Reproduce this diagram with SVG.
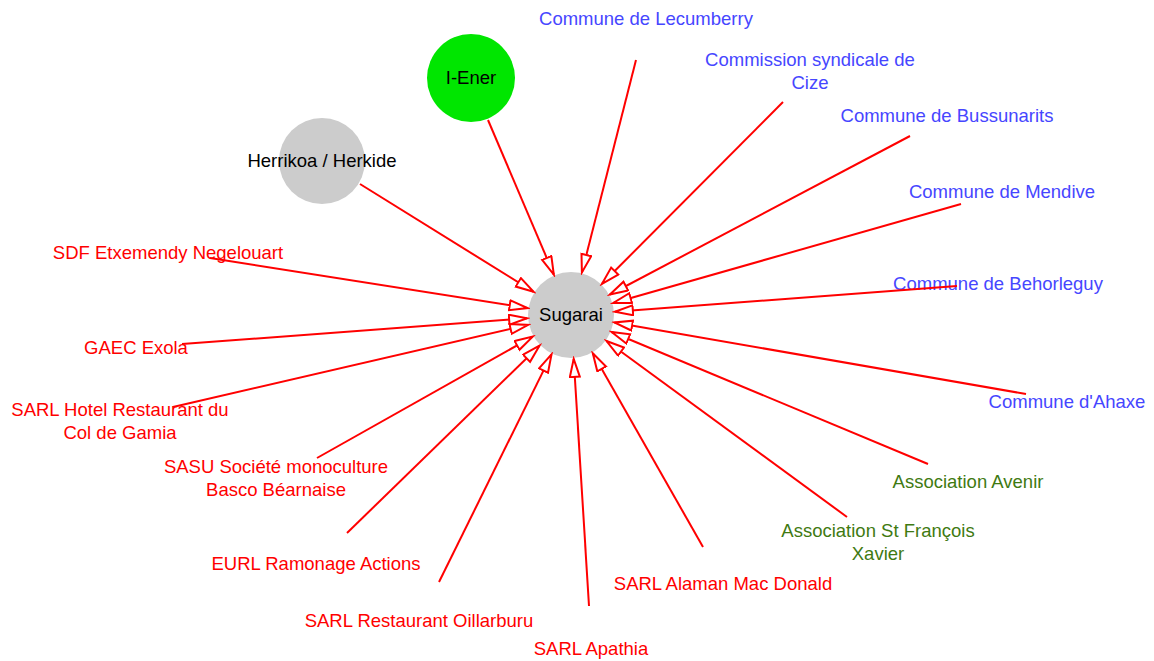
<svg xmlns="http://www.w3.org/2000/svg" width="1154" height="661" viewBox="0 0 1154 661">
<style>
text{font-family:"Liberation Sans",Arial,sans-serif;font-size:18.5px;text-anchor:middle}
.b{fill:#4646ff}.r{fill:#ff0000}.g{fill:#3f7a12}.k{fill:#000}
.e{stroke:#ff0000;stroke-width:2;fill:none;marker-end:url(#ah)}
</style>
<defs>
<marker id="ah" markerUnits="userSpaceOnUse" markerWidth="22" markerHeight="14" refX="19" refY="6" orient="auto">
<path d="M1,1 L19,6 L1,11 Z" fill="#fff" stroke="#ff0000" stroke-width="2"/>
</marker>
</defs>
<rect width="1154" height="661" fill="#fff"/>
<g id="n-herrikoa"><circle cx="322" cy="161" r="43" fill="#cccccc"/><text class="k" x="322" y="167">Herrikoa / Herkide</text></g>
<g id="n-iener"><circle cx="471" cy="78" r="44" fill="#00e600"/><text class="k" x="471" y="84">I-Ener</text></g>
<g id="n-lecumberry"><text class="b" x="646" y="25">Commune de Lecumberry</text></g>
<g id="n-commission"><text class="b" x="810" y="66">Commission syndicale de</text><text class="b" x="810" y="89">Cize</text></g>
<g id="n-bussunarits"><text class="b" x="947" y="122">Commune de Bussunarits</text></g>
<g id="n-mendive"><text class="b" x="1002" y="198">Commune de Mendive</text></g>
<g id="n-behorleguy"><text class="b" x="998" y="290">Commune de Behorleguy</text></g>
<g id="n-ahaxe"><text class="b" x="1067" y="408">Commune d'Ahaxe</text></g>
<g id="n-avenir"><text class="g" x="968" y="488">Association Avenir</text></g>
<g id="n-stfrancois"><text class="g" x="878" y="537">Association St François</text><text class="g" x="878" y="560">Xavier</text></g>
<g id="n-alaman"><text class="r" x="723" y="590">SARL Alaman Mac Donald</text></g>
<g id="n-apathia"><text class="r" x="591" y="655">SARL Apathia</text></g>
<g id="n-oillarburu"><text class="r" x="419" y="627">SARL Restaurant Oillarburu</text></g>
<g id="n-eurl"><text class="r" x="316" y="570">EURL Ramonage Actions</text></g>
<g id="n-sasu"><text class="r" x="276" y="473">SASU Société monoculture</text><text class="r" x="276" y="496">Basco Béarnaise</text></g>
<g id="n-hotel"><text class="r" x="120" y="416">SARL Hotel Restaurant du</text><text class="r" x="120" y="439">Col de Gamia</text></g>
<g id="n-gaec"><text class="r" x="136" y="354">GAEC Exola</text></g>
<g id="n-sdf"><text class="r" x="168" y="259">SDF Etxemendy Negelouart</text></g>
<g id="n-sugarai"><circle cx="571" cy="315" r="43" fill="#cccccc"/><text class="k" x="571" y="321">Sugarai</text></g>
<g id="connectors">
<line class="e" x1="636" y1="60" x2="581.9" y2="272.4"/>
<line class="e" x1="783" y1="102" x2="602.0" y2="283.8"/>
<line class="e" x1="910" y1="136" x2="609.9" y2="294.5"/>
<line class="e" x1="961" y1="204" x2="613.3" y2="303.0"/>
<line class="e" x1="957" y1="286" x2="614.9" y2="311.7"/>
<line class="e" x1="1026" y1="394" x2="614.4" y2="322.5"/>
<line class="e" x1="928" y1="464" x2="611.6" y2="332.0"/>
<line class="e" x1="847" y1="517" x2="606.5" y2="341.0"/>
<line class="e" x1="703" y1="547" x2="592.8" y2="353.3"/>
<line class="e" x1="589" y1="606" x2="573.7" y2="358.9"/>
<line class="e" x1="439" y1="582" x2="551.5" y2="354.4"/>
<line class="e" x1="347" y1="533" x2="539.5" y2="345.7"/>
<line class="e" x1="317" y1="458" x2="532.7" y2="336.6"/>
<line class="e" x1="173" y1="407" x2="528.1" y2="324.9"/>
<line class="e" x1="182" y1="344" x2="527.1" y2="318.3"/>
<line class="e" x1="210" y1="258" x2="527.5" y2="308.1"/>
<line class="e" x1="360" y1="184" x2="533.6" y2="291.8"/>
<line class="e" x1="488" y1="120" x2="553.8" y2="274.5"/>
</g>
</svg>
